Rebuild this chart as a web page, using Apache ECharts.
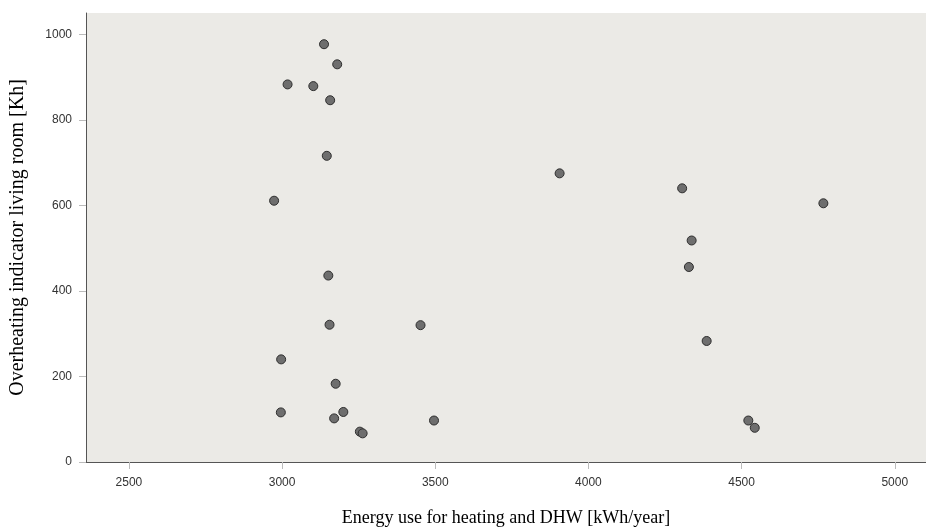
<!DOCTYPE html>
<html>
<head>
<meta charset="utf-8">
<script src="https://cdn.jsdelivr.net/npm/echarts@6/dist/echarts.min.js"></script>
<style>
  html, body { margin: 0; padding: 0; background: #fff; }
  #chart { width: 926px; height: 529px; }
</style>
</head>
<body>
<div id="chart"></div>
<script>
// energy use [kWh/year] and overheating [Kh]
const energyUse = [3137, 3180, 3018, 3102, 3157, 3146, 2974, 3151, 3155, 2997, 3175, 2996, 3170,
  3200, 3254, 3263, 3496, 3452, 3906, 4306, 4337, 4328, 4386, 4522, 4543, 4767];
const overheating = [977, 930, 883, 879, 846, 716, 611, 436, 321, 240, 183, 116, 102,
  117, 71, 67, 97, 320, 675, 640, 518, 456, 283, 97, 80, 605];
const xTicks = [2500, 3000, 3500, 4000, 4500, 5000];

const points = energyUse.map((e, i) => [e, overheating[i]]);

const chart = echarts.init(document.getElementById('chart'));

chart.setOption({
  animation: false,
  textStyle: { fontFamily: 'Liberation Sans' },
  grid: {
    left: 86, right: 0, top: 13, bottom: 67,
    outerBoundsMode: 'none',
    containLabel: false,
    show: true,
    backgroundColor: '#EBEAE6',
    borderWidth: 0
  },
  xAxis: {
    type: 'value',
    min: 2360, max: 5102,
    name: 'Energy use for heating and DHW [kWh/year]',
    nameLocation: 'middle',
    nameGap: 47,
    nameTextStyle: { fontFamily: 'Liberation Serif', fontSize: 18, color: '#000' },
    axisLine: { show: true, lineStyle: { color: '#555', width: 1 } },
    axisTick: { show: true, length: 7, lineStyle: { color: '#bbb' }, customValues: xTicks },
    axisLabel: { color: '#333', fontSize: 12, margin: 15, customValues: xTicks, formatter: v => String(v) },
    splitLine: { show: false }
  },
  yAxis: {
    type: 'value',
    min: 0, max: 1050,
    interval: 200,
    name: 'Overheating indicator living room [Kh]',
    nameLocation: 'middle',
    nameGap: 58,
    nameTextStyle: { fontFamily: 'Liberation Serif', fontSize: 20, color: '#000' },
    axisLine: { show: true, lineStyle: { color: '#555', width: 1 } },
    axisTick: { show: true, length: 7, lineStyle: { color: '#bbb' } },
    axisLabel: { color: '#333', fontSize: 12, margin: 14, showMaxLabel: false, formatter: v => String(v) },
    splitLine: { show: false }
  },
  series: [{
    type: 'scatter',
    data: points,
    symbol: 'circle',
    symbolSize: 9,
    itemStyle: {
      color: '#6E6E6E',
      borderColor: '#2E2E2E',
      borderWidth: 1,
      opacity: 1
    }
  }]
});
</script>
</body>
</html>
